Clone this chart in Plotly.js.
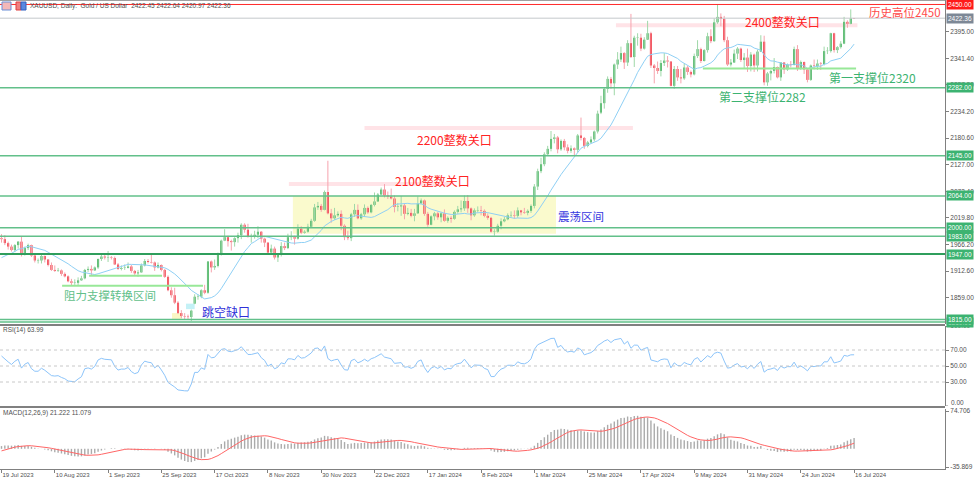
<!DOCTYPE html>
<html><head><meta charset="utf-8">
<script src="https://cdn.plot.ly/plotly-3.0.1.min.js"></script>
<style>html,body{margin:0;padding:0;background:#fff}#chart{width:975px;height:479px}</style>
</head><body><div id="chart"></div>
<script>
// ---- data (XAUUSD daily, 19 Jul 2023 .. 16 Jul 2024) ----
const tickLabels = ["19 Jul 2023","10 Aug 2023","1 Sep 2023","25 Sep 2023","17 Oct 2023","8 Nov 2023","30 Nov 2023","22 Dec 2023","17 Jan 2024","8 Feb 2024","1 Mar 2024","25 Mar 2024","17 Apr 2024","9 May 2024","31 May 2024","24 Jun 2024","16 Jul 2024"];

const openP = [1979,1977,1969,1962,1955,1965,1972,1946,1959,1965,
1944,1934,1934,1943,1936,1925,1915,1913,1914,1907,
1902,1892,1889,1889,1894,1898,1915,1917,1914,1920,
1937,1942,1940,1940,1939,1926,1917,1919,1919,1922,
1913,1908,1910,1924,1933,1931,1930,1920,1925,1915,
1901,1874,1864,1849,1828,1822,1821,1820,1847,1861,
1861,1874,1869,1932,1920,1923,1947,1974,1981,1973,
1971,1979,1985,2006,1996,1983,1983,1986,1992,1978,
1970,1950,1958,1940,1946,1963,1959,1981,1981,1978,
1998,1990,1992,2002,2014,2041,2044,2036,2072,2029,
2019,2025,2028,2004,1981,1979,2027,2036,2019,2027,
2040,2031,2046,2053,2067,2077,2065,2063,2059,2042,
2043,2045,2028,2030,2024,2029,2049,2055,2028,2006,
2023,2029,2021,2029,2014,2020,2018,2032,2037,2039,
2054,2039,2025,2035,2035,2034,2024,2020,1992,1992,
2004,2013,2017,2025,2025,2024,2035,2031,2030,2034,
2044,2083,2114,2128,2148,2159,2179,2182,2158,2175,
2162,2155,2160,2157,2186,2181,2165,2172,2178,2194,
2232,2251,2280,2300,2291,2329,2339,2352,2333,2372,
2344,2383,2383,2361,2379,2392,2327,2322,2316,2332,
2337,2335,2286,2320,2303,2301,2323,2314,2309,2346,
2360,2336,2358,2386,2376,2414,2425,2421,2378,2329,
2333,2351,2361,2338,2343,2326,2349,2327,2355,2375,
2293,2311,2316,2324,2303,2333,2319,2329,2328,2360,
2322,2334,2319,2298,2327,2326,2331,2330,2356,2356,
2392,2358,2364,2371,2415,2411,2422.45];

const highP = [1987,1985,1972,1966,1967,1973,1982,1962,1968,1966,
1947,1938,1947,1944,1937,1930,1924,1919,1916,1910,
1904,1897,1896,1900,1903,1917,1922,1924,1922,1938,
1948,1949,1953,1943,1942,1929,1924,1926,1930,1925,
1915,1915,1928,1937,1937,1947,1932,1930,1926,1917,
1904,1880,1879,1852,1834,1828,1825,1835,1866,1866,
1876,1885,1933,1934,1936,1950,1976,1997,1984,1976,
1981,1990,2009,2009,2008,1988,1994,2003,1993,1980,
1971,1966,1962,1948,1971,1970,1988,1993,1984,2007,
2003,1995,2008,2018,2048,2052,2048,2075,2135,2038,
2040,2033,2035,2007,1994,2030,2048,2047,2030,2047,
2043,2048,2071,2070,2081,2088,2073,2079,2065,2050,
2064,2048,2040,2038,2038,2063,2059,2057,2032,2025,
2032,2032,2032,2037,2023,2024,2035,2044,2055,2065,
2066,2041,2039,2043,2044,2037,2029,2022,1997,2008,
2019,2022,2029,2033,2035,2041,2036,2040,2037,2047,
2088,2119,2141,2152,2165,2195,2189,2185,2178,2179,
2168,2166,2162,2189,2222,2183,2175,2184,2196,2236,
2266,2282,2305,2304,2331,2354,2365,2354,2378,2431,
2387,2392,2391,2384,2417,2395,2330,2335,2338,2352,
2346,2336,2326,2326,2320,2331,2326,2317,2351,2378,
2363,2360,2393,2400,2422,2450,2432,2427,2385,2340,
2359,2364,2363,2352,2361,2354,2351,2359,2388,2387,
2314,2318,2342,2325,2334,2334,2331,2336,2365,2368,
2337,2335,2320,2329,2339,2339,2334,2365,2364,2393,
2393,2366,2376,2425,2418,2440,2422.64];

const lowP = [1970,1965,1956,1952,1951,1958,1942,1944,1955,1941,
1930,1928,1928,1930,1922,1913,1911,1911,1903,1900,
1890,1884,1885,1884,1893,1896,1911,1904,1913,1917,
1933,1936,1931,1936,1925,1915,1914,1915,1918,1909,
1905,1901,1910,1922,1928,1928,1913,1918,1912,1899,
1872,1859,1846,1826,1818,1816,1814,1812,1846,1855,
1858,1866,1867,1910,1915,1920,1944,1973,1962,1954,
1962,1970,1977,1990,1980,1970,1978,1979,1970,1961,
1946,1947,1936,1931,1942,1955,1957,1975,1966,1976,
1987,1988,1990,2000,2012,2036,2032,2035,2027,2010,
2016,2022,1995,1975,1975,1973,2022,2017,2016,2022,
2028,2029,2043,2052,2066,2061,2058,2057,2031,2033,
2024,2017,2025,2021,2013,2028,2047,2024,2002,2005,
2015,2016,2011,2012,2010,2010,2016,2028,2031,2034,
2030,2015,2022,2031,2025,2021,2016,1990,1984,1990,
1997,2011,2015,2021,2018,2020,2025,2028,2025,2030,
2039,2076,2110,2124,2146,2154,2170,2150,2155,2156,
2150,2151,2146,2152,2176,2159,2162,2170,2174,2190,
2229,2240,2272,2280,2267,2320,2334,2320,2326,2342,
2324,2367,2356,2359,2379,2322,2291,2310,2305,2326,
2323,2285,2280,2296,2291,2298,2308,2303,2307,2342,
2332,2335,2353,2372,2375,2411,2406,2374,2326,2325,
2333,2340,2334,2322,2314,2315,2314,2315,2354,2287,
2286,2297,2311,2301,2296,2310,2316,2323,2327,2316,
2318,2310,2293,2296,2319,2318,2318,2327,2350,2353,
2353,2352,2361,2370,2403,2410,2420.97];

const closeP = [1977,1969,1962,1955,1965,1972,1946,1959,1965,1944,
1934,1934,1943,1936,1925,1915,1913,1914,1907,1902,
1892,1889,1889,1894,1898,1915,1917,1914,1920,1937,
1942,1940,1940,1939,1926,1917,1919,1919,1922,1913,
1908,1910,1924,1933,1931,1930,1920,1925,1915,1901,
1874,1864,1849,1828,1822,1821,1820,1833,1861,1861,
1874,1869,1932,1920,1923,1947,1974,1981,1973,1971,
1979,1985,2006,1996,1983,1983,1986,1992,1978,1970,
1950,1958,1940,1946,1963,1959,1981,1981,1978,1998,
1990,1992,2002,2014,2041,2044,2036,2072,2029,2019,
2025,2028,2004,1981,1979,2027,2036,2019,2027,2040,
2031,2046,2053,2067,2077,2065,2063,2059,2042,2043,
2045,2028,2030,2024,2029,2049,2055,2028,2006,2023,
2029,2021,2029,2014,2020,2018,2032,2037,2039,2054,
2039,2025,2035,2035,2034,2024,2020,1992,1992,2004,
2013,2017,2025,2025,2024,2035,2031,2030,2034,2044,
2083,2114,2128,2148,2159,2179,2182,2158,2175,2162,
2155,2160,2157,2186,2181,2165,2172,2178,2194,2230,
2251,2280,2300,2291,2329,2339,2352,2333,2372,2344,
2383,2383,2361,2379,2392,2327,2322,2316,2332,2337,
2335,2286,2320,2303,2301,2323,2314,2309,2346,2360,
2336,2358,2386,2376,2414,2425,2421,2378,2329,2333,
2351,2361,2338,2343,2326,2349,2327,2355,2375,2293,
2311,2316,2324,2303,2333,2319,2329,2328,2360,2322,
2334,2319,2298,2327,2326,2331,2330,2356,2356,2392,
2358,2364,2371,2415,2411,2422,2422.36];

// closes before 19 Jul 2023 (off-screen), used only to warm up the indicators
const warmupClose = [2017,1989,1982,1957,1978,1971,1975,1958,1941,1946,1943,1960,1963,
1978,1948,1961,1963,1940,1965,1961,1957,1943,1942,1958,1957,1950,1936,1933,1913,1921,
1923,1913,1907,1908,1919,1921,1925,1915,1910,1925,1925,1932,1957,1961,1955,1955,1979];

const levelPrices = [1810, 1815, 1983, 2000, 2064, 2145, 2282];
const strongLevel = 1947;
const athLevel = 2450;
const lastPrice = 2422.36;
const mainTicks = [2395, 2341.4, 2287.8, 2234.2, 2180.6, 2127, 2073.4, 2019.8, 1966.2, 1912.6, 1859];
const rsiTicks = [100, 70, 50, 30];
const macdTicks = [74.706, -35.869];

// ---- indicators ----
const N = closeP.length;
const idx = closeP.map((_, i) => i);
const allC = warmupClose.concat(closeP);
const W = warmupClose.length;

function smaArr(a, n) {
  const out = []; let s = 0;
  for (let i = 0; i < a.length; i++) {
    s += a[i]; if (i >= n) s -= a[i - n];
    out.push(i >= n - 1 ? s / n : null);
  }
  return out;
}
function emaArr(a, n) {
  const k = 2 / (n + 1); const out = [a[0]];
  for (let i = 1; i < a.length; i++) out.push(a[i] * k + out[i - 1] * (1 - k));
  return out;
}
const ma14 = smaArr(allC, 14).slice(W);

const rsiAll = new Array(allC.length).fill(null);
let ag = 0, al = 0;
for (let i = 1; i <= 14; i++) { const d = allC[i] - allC[i - 1]; if (d > 0) ag += d; else al -= d; }
ag /= 14; al /= 14; rsiAll[14] = 100 - 100 / (1 + ag / al);
for (let i = 15; i < allC.length; i++) {
  const d = allC[i] - allC[i - 1];
  ag = (ag * 13 + Math.max(d, 0)) / 14; al = (al * 13 + Math.max(-d, 0)) / 14;
  rsiAll[i] = al === 0 ? 100 : 100 - 100 / (1 + ag / al);
}
const rsi = rsiAll.slice(W);

const e12 = emaArr(allC, 12), e26 = emaArr(allC, 26);
const macdAll = e12.map((v, i) => v - e26[i]);
const sigAll = smaArr(macdAll, 9);
const macdMain = macdAll.slice(W), macdSig = sigAll.slice(W);

// ---- candle parts ----
const bodyBase = [], bodyH = [], bodyCol = [];
const wuX = [], wuY = [], wdX = [], wdY = [];
for (let i = 0; i < N; i++) {
  const up = closeP[i] >= openP[i];
  let h = closeP[i] - openP[i];
  if (Math.abs(h) < 0.8) h = up ? 0.8 : -0.8;
  bodyBase.push(openP[i]); bodyH.push(h);
  bodyCol.push(up ? '#2fa84f' : '#f01e28');
  if (up) { wuX.push(i, i, null); wuY.push(lowP[i], highP[i], null); }
  else { wdX.push(i, i, null); wdY.push(lowP[i], highP[i], null); }
}

const traces = [
  {type:'scatter', mode:'lines', x:wuX, y:wuY, line:{color:'#9fd8a8', width:1}, hoverinfo:'skip', xaxis:'x', yaxis:'y'},
  {type:'scatter', mode:'lines', x:wdX, y:wdY, line:{color:'#f6a3ad', width:1}, hoverinfo:'skip', xaxis:'x', yaxis:'y'},
  {type:'bar', x:idx, base:bodyBase, y:bodyH, width:0.62, marker:{color:bodyCol, line:{width:0}}, xaxis:'x', yaxis:'y'},
  {type:'scatter', mode:'lines', x:idx, y:ma14, line:{color:'#8fd0f5', width:1}, xaxis:'x', yaxis:'y'},
  {type:'scatter', mode:'lines', x:idx, y:rsi, line:{color:'#8cc4fa', width:1}, xaxis:'x', yaxis:'y2'},
  {type:'bar', x:idx, y:macdMain, width:0.42, marker:{color:'#ababab', line:{width:0}}, xaxis:'x', yaxis:'y3'},
  {type:'scatter', mode:'lines', x:idx, y:macdSig, line:{color:'#ff6666', width:1}, xaxis:'x', yaxis:'y3'}
];

// ---- geometry helpers (pixels -> paper) ----
const PW = 945, PH = 469;
const px = p => p / PW;
const py = p => (PH - p) / PH;

const shapes = [];
const annotations = [];
// zone shapes
shapes.push({type:'rect', xref:'x', yref:'y', x0:87.5, x1:166.5, y0:1988, y1:2064, fillcolor:'rgba(250,250,200,0.9)', line:{width:0}, layer:'below'});
shapes.push({type:'rect', xref:'x', yref:'y', x0:51.2, x1:54.2, y0:1814, y1:1828, fillcolor:'rgba(250,245,190,0.9)', line:{width:0}, layer:'below'});
shapes.push({type:'rect', xref:'x', yref:'y', x0:55.4, x1:58, y0:1836, y1:1847, fillcolor:'rgba(190,240,245,0.9)', line:{width:0}, layer:'below'});
// pink round-number bands
[[184.5,257,2408],[109,189.6,2201],[86.3,134.7,2088]].forEach(b => shapes.push({type:'line', xref:'x', yref:'y', x0:b[0], x1:b[1], y0:b[2], y1:b[2], line:{color:'rgba(255,170,182,0.33)', width:4}, layer:'below'}));
// light green support segments
[[18.2,60.5,1883],[26.3,48.2,1903],[210.6,256.6,2321]].forEach(b => shapes.push({type:'line', xref:'x', yref:'y', x0:b[0], x1:b[1], y0:b[2], y1:b[2], line:{color:'#98e898', width:2}}));
// horizontal levels
shapes.push({type:'line', xref:'paper', yref:'y', x0:0, x1:1, y0:lastPrice, y1:lastPrice, line:{color:'#c4c8cc', width:1}});
shapes.push({type:'line', xref:'paper', yref:'y', x0:0, x1:1, y0:athLevel, y1:athLevel, line:{color:'#ff2a2a', width:1}});
levelPrices.forEach(p => shapes.push({type:'line', xref:'paper', yref:'y', x0:0, x1:1, y0:p, y1:p, line:{color:'#62c08a', width:1.5}}));
shapes.push({type:'line', xref:'paper', yref:'y', x0:0, x1:1, y0:strongLevel, y1:strongLevel, line:{color:'#2f9e5c', width:2}});
// RSI dotted levels
[70,50,30].forEach(v => shapes.push({type:'line', xref:'paper', yref:'y2', x0:0, x1:1, y0:v, y1:v, line:{color:'#c8c8c8', width:1, dash:'dot'}}));
// panel separators / frame
shapes.push({type:'line', xref:'paper', yref:'paper', x0:0, x1:1, y0:py(325), y1:py(325), line:{color:'#808080', width:2}});
shapes.push({type:'line', xref:'paper', yref:'paper', x0:0, x1:1, y0:py(407), y1:py(407), line:{color:'#808080', width:2}});
shapes.push({type:'line', xref:'paper', yref:'paper', x0:0, x1:1, y0:py(0.5), y1:py(0.5), line:{color:'#a0a0a0', width:1}});
// RSI zero tick mark
shapes.push({type:'line', xref:'paper', yref:'y2', x0:1, x1:1 + 3 / PW, y0:0, y1:0, line:{color:'#808080', width:1}});
// header icons
shapes.push({type:'rect', xref:'paper', yref:'paper', x0:px(2), x1:px(11), y0:py(10), y1:py(2), fillcolor:'#f4b8b8', line:{color:'#6a8fd8', width:1}});
shapes.push({type:'rect', xref:'paper', yref:'paper', x0:px(16), x1:px(21), y0:py(10), y1:py(2), fillcolor:'#f08080', line:{color:'#e04040', width:1}});
shapes.push({type:'rect', xref:'paper', yref:'paper', x0:px(21), x1:px(26), y0:py(10), y1:py(2), fillcolor:'#5a88e0', line:{color:'#3060c0', width:1}});

// right price boxes
function box(price, txt, bg) {
  annotations.push({xref:'paper', yref:'y', x:1, y:price, xanchor:'left', yanchor:'middle', xshift:1, text:txt, showarrow:false,
    bgcolor:bg, borderpad:1, font:{size:6.5, color:'#ffffff', family:'Liberation Sans, Arial, sans-serif'}});
}
levelPrices.concat([strongLevel]).forEach(p => box(p, p.toFixed(2), '#3cb371'));
box(lastPrice, lastPrice.toFixed(2), '#7d8896');
box(athLevel, athLevel.toFixed(2), '#ff1a1a');

// headers
const hdrFont = {size:6.5, color:'#505050', family:'Liberation Sans, Arial, sans-serif'};
annotations.push({xref:'paper', yref:'paper', x:px(28), y:py(6), xanchor:'left', yanchor:'middle', showarrow:false, text:'XAUUSD, Daily:  Gold / US Dollar  2422.45 2422.64 2420.97 2422.36', font:hdrFont});
annotations.push({xref:'paper', yref:'paper', x:px(1), y:py(330), xanchor:'left', yanchor:'middle', showarrow:false, text:'RSI(14) 63.99', font:hdrFont});
annotations.push({xref:'paper', yref:'paper', x:px(1), y:py(413), xanchor:'left', yanchor:'middle', showarrow:false, text:'MACD(12,26,9) 21.222 11.079', font:hdrFont});
// RSI zero label (sits just above the MACD maximum label, as in the reference)
annotations.push({xref:'paper', yref:'paper', x:1, y:py(402.5), xanchor:'left', yanchor:'middle', xshift:4, showarrow:false, text:'0.00', font:hdrFont});

// chart notes
const cjk = 'Noto Sans CJK SC, sans-serif';
function note(x, y, txt, color, size) {
  annotations.push({xref:'x', yref:'y', x:x, y:y, xanchor:'left', yanchor:'middle', showarrow:false, text:txt, font:{family:cjk, size:size, color:color}});
}
note(259.9, 2434.7, '历史高位2450', '#ff4a4a', 11.5);
note(222.7, 2416.6, '2400整数关口', '#ff2424', 12);
note(247.9, 2303.7, '第一支撑位2320', '#3cb371', 12);
note(214.9, 2265.4, '第二支撑位2282', '#3cb371', 12);
note(124.2, 2178.8, '2200整数关口', '#ff2424', 12);
note(117.6, 2096.2, '2100整数关口', '#ff2424', 12);
note(166.5, 2023.6, '震荡区间', '#3838e0', 11.5);
note(18.2, 1864.5, '阻力支撑转换区间', '#62c08a', 11.5);
note(59.6, 1830.2, '跳空缺口', '#3030d8', 12);

const axFont = {size:6.5, color:'#505050', family:'Liberation Sans, Arial, sans-serif'};
const layout = {
  width:975, height:479,
  margin:{l:0, r:30, t:0, b:10, pad:0},
  paper_bgcolor:'#ffffff', plot_bgcolor:'#ffffff',
  showlegend:false, hovermode:false, barmode:'overlay',
  font:axFont,
  xaxis:{range:[-0.45,283.3], anchor:'y3', tickvals:tickLabels.map((_, i) => i * 16), ticktext:tickLabels,
    ticks:'outside', ticklen:3, tickcolor:'#808080', ticklabelposition:'outside right', tickfont:{size:6, color:'#505050'},
    showgrid:false, zeroline:false, showline:true, linecolor:'#808080', linewidth:1, fixedrange:true},
  yaxis:{domain:[py(324), 1], range:[1806, 2459], side:'right', anchor:'x', tickvals:mainTicks, ticktext:mainTicks.map(v => v.toFixed(2)),
    ticks:'outside', ticklen:3, tickcolor:'#808080', showgrid:false, zeroline:false, showline:true, linecolor:'#808080', tickfont:axFont},
  yaxis2:{domain:[py(406), py(326)], range:[0, 100], side:'right', anchor:'x', tickvals:rsiTicks, ticktext:rsiTicks.map(v => v.toFixed(2)),
    ticks:'outside', ticklen:3, tickcolor:'#808080', showgrid:false, zeroline:false, showline:true, linecolor:'#808080', tickfont:axFont},
  yaxis3:{domain:[0, py(409)], range:[-39.8, 78.66], side:'right', anchor:'x', tickvals:macdTicks, ticktext:macdTicks.map(v => String(v)),
    ticks:'outside', ticklen:3, tickcolor:'#808080', showgrid:false, zeroline:false, showline:true, linecolor:'#808080', tickfont:axFont},
  shapes:shapes, annotations:annotations
};
Plotly.newPlot('chart', traces, layout, {staticPlot:true, displayModeBar:false});
</script>
</body></html>
